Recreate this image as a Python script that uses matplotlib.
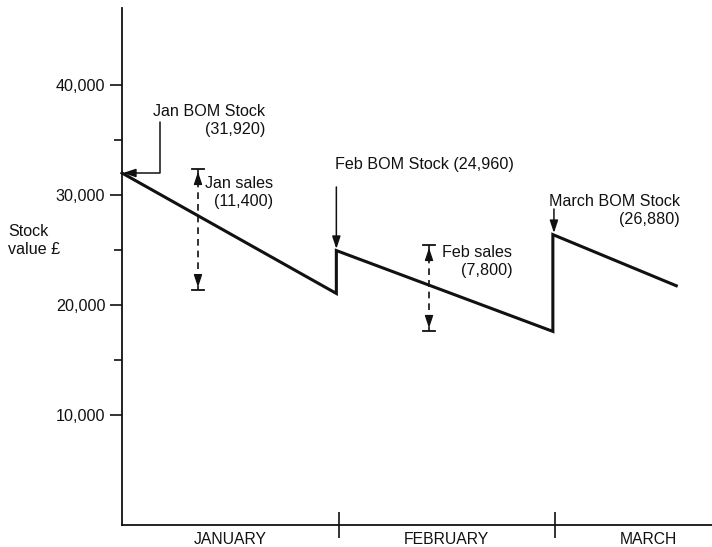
import matplotlib
matplotlib.use("Agg")
import matplotlib.pyplot as plt
from matplotlib.ticker import FixedLocator, NullFormatter

plt.rcParams['font.family'] = ['Liberation Sans', 'DejaVu Sans']

# Data (x in months from start of January)
months = ['JANUARY', 'FEBRUARY', 'MARCH']
month_label_x = [0.5, 1.5, 2.43]
month_breaks = [1, 2]

# stock line as drawn: start of month, end of month ...
stock_x = [0, 0.99, 0.99, 1.99, 1.99, 2.56]
stock_y = [32000, 21050, 24950, 17600, 26400, 21750]

bom_stock = [31920, 24960, 26880]
sales = [11400, 7800]
# dimension markers for the sales (x, top, bottom)
sales_x = [0.351, 1.418]
sales_top = [32360, 25450]
sales_bottom = [21360, 17640]

major_ticks = [10000, 20000, 30000, 40000]
minor_ticks = [15000, 25000, 35000]

INK = '#111111'
HEAD = '-|>,head_length=0.75,head_width=0.25'

fig = plt.figure(figsize=(7.12, 5.47), dpi=100)
ax = fig.add_axes([122 / 712, 22 / 547, 590 / 712, 517 / 547])
ax.set_xlim(0, 2.725)
ax.set_ylim(0, 47000)

for s in ['top', 'right']:
    ax.spines[s].set_visible(False)
for s in ['left', 'bottom']:
    ax.spines[s].set_linewidth(1.3)
    ax.spines[s].set_color(INK)

fs = 11.6

# y axis ticks
ax.yaxis.set_major_locator(FixedLocator(major_ticks))
ax.yaxis.set_minor_locator(FixedLocator(minor_ticks))
ax.set_yticklabels([f'{v:,}' for v in major_ticks])
ax.yaxis.set_minor_formatter(NullFormatter())
ax.tick_params(axis='y', which='major', length=9, width=1.2, pad=3,
               labelsize=fs, colors=INK)
ax.tick_params(axis='y', which='minor', length=5.5, width=1.2, colors=INK)

# x axis: month separators as major ticks, names as minor ticks
ax.xaxis.set_major_locator(FixedLocator(month_breaks))
ax.xaxis.set_major_formatter(NullFormatter())
ax.xaxis.set_minor_locator(FixedLocator(month_label_x))
ax.set_xticklabels(months, minor=True)
ax.tick_params(axis='x', which='major', direction='inout', length=19,
               width=1.2, colors=INK)
ax.tick_params(axis='x', which='minor', length=0, pad=5, labelsize=11.3,
               colors=INK)

# stock line
ax.plot(stock_x, stock_y, color=INK, lw=2.2, solid_joinstyle='miter',
        clip_on=False)

# Jan BOM arrow (elbow)
ax.annotate('', xy=(0.005, stock_y[0]), xytext=(0.1755, 36600),
            arrowprops=dict(arrowstyle=HEAD,
                            connectionstyle='angle,angleA=90,angleB=0,rad=0',
                            color=INK, lw=1.1, shrinkA=0, shrinkB=0))
ax.text(0.662, 36730, f'Jan BOM Stock\n({bom_stock[0]:,})', ha='right',
        va='center', multialignment='right', fontsize=fs, color=INK,
        linespacing=1.25)

# Feb BOM arrow
ax.annotate('', xy=(stock_x[2], stock_y[2] + 150), xytext=(stock_x[2], 30730),
            arrowprops=dict(arrowstyle=HEAD, color=INK, lw=1.1,
                            shrinkA=0, shrinkB=0))
ax.text(0.984, 32730, f'Feb BOM Stock ({bom_stock[1]:,})', ha='left',
        va='center', fontsize=fs, color=INK)

# March BOM arrow
ax.annotate('', xy=(stock_x[4] + 0.005, stock_y[4] + 150),
            xytext=(stock_x[4] + 0.005, 28730),
            arrowprops=dict(arrowstyle=HEAD, color=INK, lw=1.1,
                            shrinkA=0, shrinkB=0))
ax.text(2.575, 28550, f'March BOM Stock\n({bom_stock[2]:,})', ha='right',
        va='center', multialignment='right', fontsize=fs, color=INK,
        linespacing=1.25)

# sales dimension markers
sales_names = ['Jan sales', 'Feb sales']
sales_text_x = [0.699, 1.803]
sales_text_y = [30270, 23910]
for i in range(2):
    x, top, bot = sales_x[i], sales_top[i], sales_bottom[i]
    ax.plot([x, x], [top, bot], color=INK, lw=1.2, ls=(0, (4, 3)))
    ax.plot([x - 0.028, x + 0.028], [top, top], color=INK, lw=1.3)
    ax.plot([x - 0.028, x + 0.028], [bot, bot], color=INK, lw=1.3)
    ax.annotate('', xy=(x, top - 250), xytext=(x, top - 1000),
                arrowprops=dict(arrowstyle=HEAD, color=INK, lw=1,
                                shrinkA=0, shrinkB=0))
    ax.annotate('', xy=(x, bot + 250), xytext=(x, bot + 1000),
                arrowprops=dict(arrowstyle=HEAD, color=INK, lw=1,
                                shrinkA=0, shrinkB=0))
    ax.text(sales_text_x[i], sales_text_y[i],
            f'{sales_names[i]}\n({sales[i]:,})', ha='right', va='center',
            multialignment='right', fontsize=fs, color=INK, linespacing=1.25)

fig.text(8 / 712, 1 - 241 / 547, 'Stock\nvalue £', ha='left', va='center',
         fontsize=fs, color=INK, linespacing=1.25)

fig.savefig('out.png', dpi=100)
